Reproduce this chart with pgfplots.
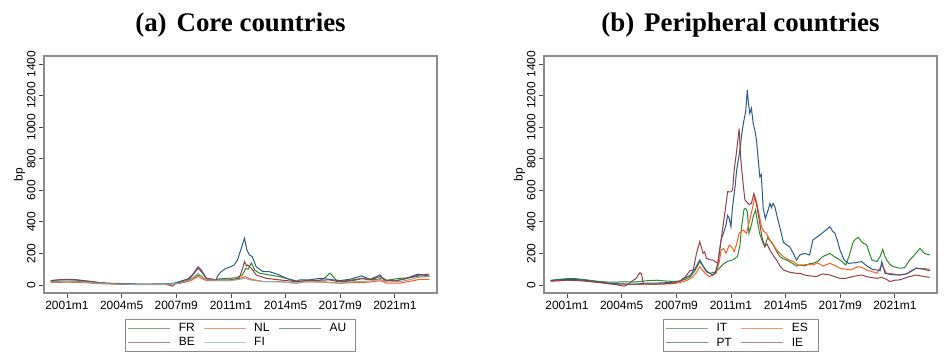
\documentclass[border=0pt]{standalone}
\usepackage{fontspec}
\setmainfont{Liberation Sans}
\newfontfamily\titlefont{Liberation Serif}
\usepackage{pgfplots}
\pgfplotsset{compat=1.18}
\definecolor{cgreen}{HTML}{2A8A2A}
\definecolor{corange}{HTML}{FF5A1F}
\definecolor{cblue}{HTML}{2B5A8A}
\definecolor{cmaroon}{HTML}{954047}
\definecolor{cgrey}{HTML}{8FA9A3}
\definecolor{frame}{HTML}{8C8C8C}
\pgfplotsset{
  base/.style={
    scale only axis, width=393bp, height=237bp,
    xmin=1999.6, xmax=2023.57, ymin=-51, ymax=1451,
    xtick={2001,2004.3333,2007.6667,2011,2014.3333,2017.6667,2021},
    xticklabels={2001m1,2004m5,2007m9,2011m1,2014m5,2017m9,2021m1},
    ytick={0,200,...,1400},
    yticklabel style={rotate=90, anchor=south},
    /pgf/number format/assume math mode=true,
    /pgf/number format/1000 sep={},
    tick label style={font=\fontsize{12}{14}\selectfont},
    tick align=outside, major tick length=5bp,
    xtick pos=bottom, ytick pos=left,
    axis line style={frame, line width=1.2bp},
    every tick/.style={black!70, line width=0.8bp},
    ylabel={bp}, ylabel style={at={(axis description cs:-0.062,0.5)}, anchor=center, font=\fontsize{12}{14}\selectfont},
    title style={at={(0.5,1)}, anchor=base, yshift=19bp, font=\titlefont\bfseries\fontsize{27}{30}\selectfont},
    legend style={at={(0.5,-0.11)}, anchor=north, draw=frame, line width=0.8bp,
      font=\fontsize{12}{14}\selectfont, inner sep=2bp, row sep=0.5bp,
      nodes={text width=22bp, align=left, inner sep=2bp},
      /tikz/every odd column/.append style={column sep=6bp}},
    legend cell align=left,
    legend image code/.code={\draw[#1, line width=1.4bp, opacity=0.65] (0bp,0bp) -- (42bp,0bp);},
    every axis plot/.append style={line width=1bp},
  }
}
\begin{document}
\begin{tikzpicture}[x=1bp,y=1bp]
\useasboundingbox (0,0) rectangle (950,360);
% ---------------- (a) Core countries ----------------
\begin{axis}[base, at={(44bp,67bp)}, anchor=south west,
  title={(a)\hspace{0.12em} Core countries}, legend columns=3]
\addplot[cgreen] coordinates {(2000.0,20)(2000.5,22)(2001.0,25)(2001.5,24)(2002.0,20)(2002.5,16)(2003.0,12)(2003.5,10)(2004.0,8)(2004.5,6)(2005.0,5)(2005.5,4)(2006.0,4)(2006.5,5)(2007.0,6)(2007.5,10)(2007.9,18)(2008.3,25)(2008.7,45)(2009.0,63)(2009.2,55)(2009.5,32)(2010.1,36)(2010.5,40)(2010.9,42)(2011.3,45)(2011.7,63)(2011.9,105)(2012.05,100)(2012.25,140)(2012.45,95)(2012.75,74)(2013.0,70)(2013.35,63)(2013.97,53)(2014.58,36)(2015.2,21)(2015.6,28)(2016.0,30)(2016.4,28)(2016.8,50)(2017.0,74)(2017.1,70)(2017.4,32)(2017.8,25)(2018.3,30)(2019.0,42)(2019.5,35)(2020.0,35)(2020.2,48)(2020.5,30)(2021.3,42)(2021.8,45)(2022.5,57)(2022.8,55)(2023.1,53)};
\addlegendentry{FR}
\addplot[corange] coordinates {(2000.0,15)(2001.0,18)(2002.0,15)(2003.0,8)(2004.0,5)(2005.0,3)(2006.0,2)(2007.0,3)(2007.9,10)(2008.5,25)(2009.0,53)(2009.5,27)(2010.9,27)(2011.5,40)(2011.83,53)(2012.25,36)(2013.0,21)(2014.0,21)(2015.0,11)(2015.5,20)(2016.5,18)(2017.6,11)(2018.5,15)(2019.5,18)(2020.1,27)(2020.5,12)(2021.3,11)(2022.0,25)(2022.5,35)(2023.1,36)};
\addlegendentry{NL}
\addplot[cblue] coordinates {(2000.0,27)(2000.5,32)(2001.0,36)(2001.5,34)(2002.0,28)(2002.5,22)(2003.0,15)(2003.5,11)(2004.0,10)(2004.5,8)(2005.0,6)(2005.5,5)(2006.0,5)(2006.5,6)(2007.0,6)(2007.5,10)(2007.85,21)(2008.5,42)(2009.0,105)(2009.2,84)(2009.5,42)(2010.1,32)(2010.2,60)(2010.4,84)(2010.7,105)(2011.0,116)(2011.2,127)(2011.4,158)(2011.6,222)(2011.83,296)(2011.97,222)(2012.13,190)(2012.3,180)(2012.54,116)(2012.95,84)(2013.35,84)(2013.66,74)(2013.97,63)(2014.38,42)(2014.99,21)(2015.2,32)(2015.8,32)(2016.4,42)(2017.0,36)(2017.6,27)(2018.25,36)(2018.96,57)(2019.5,36)(2020.1,63)(2020.4,27)(2021.1,27)(2021.7,42)(2022.4,69)(2023.1,57)};
\addlegendentry{AU}
\addplot[cmaroon] coordinates {(2000.0,28)(2000.5,32)(2001.0,34)(2001.5,32)(2002.0,26)(2002.5,20)(2003.0,14)(2003.5,10)(2004.0,8)(2004.5,6)(2005.0,5)(2005.5,4)(2006.0,4)(2006.5,5)(2007.0,4)(2007.3,-3)(2007.44,-8)(2007.55,5)(2007.9,15)(2008.3,28)(2008.7,70)(2009.0,116)(2009.2,95)(2009.5,42)(2010.1,32)(2010.9,32)(2011.5,42)(2011.7,100)(2011.83,148)(2011.95,120)(2012.03,127)(2012.25,105)(2012.54,63)(2013.15,42)(2013.97,32)(2015.0,21)(2015.6,28)(2016.4,30)(2017.0,32)(2017.6,20)(2018.3,25)(2019.0,40)(2019.5,32)(2020.1,53)(2020.4,30)(2021.1,28)(2021.7,40)(2022.5,63)(2023.1,69)};
\addlegendentry{BE}
\addplot[cgrey] coordinates {(2000.0,18)(2001.0,22)(2002.0,18)(2003.0,10)(2004.0,6)(2005.0,4)(2006.0,3)(2007.0,4)(2007.9,12)(2008.5,30)(2009.0,74)(2009.5,32)(2010.9,27)(2011.5,35)(2011.83,42)(2012.3,30)(2013.0,21)(2014.0,20)(2015.0,11)(2015.5,20)(2016.5,22)(2017.6,11)(2018.5,20)(2019.5,25)(2020.1,35)(2020.5,20)(2021.3,21)(2022.0,35)(2022.5,50)(2023.1,53)};
\addlegendentry{FI}
\end{axis}
% ---------------- (b) Peripheral countries ----------------
\begin{axis}[base, at={(544bp,67bp)}, anchor=south west,
  title={(b)\hspace{0.12em} Peripheral countries}, legend columns=2]
\addplot[cgreen] coordinates {(2000.0,30)(2000.5,35)(2001.0,40)(2001.5,40)(2002.0,35)(2002.5,28)(2003.0,22)(2003.5,18)(2004.0,18)(2004.5,20)(2005.0,18)(2005.5,22)(2006.0,28)(2006.5,30)(2007.0,25)(2007.5,22)(2007.9,25)(2008.2,35)(2008.5,50)(2008.8,90)(2009.1,148)(2009.3,120)(2009.5,90)(2009.7,74)(2010.0,80)(2010.3,106)(2010.5,130)(2010.8,150)(2011.1,158)(2011.4,180)(2011.55,250)(2011.65,369)(2011.8,480)(2011.9,486)(2012.0,465)(2012.1,327)(2012.25,380)(2012.36,433)(2012.5,475)(2012.62,400)(2012.75,327)(2012.9,280)(2013.06,243)(2013.26,306)(2013.4,280)(2013.57,255)(2013.8,210)(2013.98,180)(2014.2,165)(2014.4,158)(2014.7,140)(2015.0,120)(2015.2,127)(2015.5,120)(2015.8,135)(2016.0,137)(2016.3,150)(2016.6,180)(2017.04,200)(2017.3,180)(2017.65,158)(2018.0,127)(2018.2,180)(2018.46,274)(2018.6,290)(2018.77,302)(2019.0,270)(2019.28,253)(2019.45,200)(2019.6,158)(2019.9,148)(2020.1,180)(2020.26,226)(2020.4,180)(2020.5,158)(2020.7,130)(2020.9,116)(2021.3,106)(2021.6,110)(2021.9,158)(2022.2,190)(2022.53,232)(2022.8,200)(2023.14,190)};
\addlegendentry{IT}
\addplot[corange] coordinates {(2000.0,25)(2000.5,28)(2001.0,32)(2001.5,30)(2002.0,28)(2002.5,22)(2003.0,15)(2003.5,10)(2004.0,6)(2004.5,5)(2005.0,4)(2005.5,4)(2006.0,5)(2006.5,5)(2007.0,6)(2007.5,8)(2007.9,15)(2008.3,28)(2008.6,45)(2008.9,80)(2009.1,116)(2009.3,90)(2009.5,65)(2009.7,53)(2010.1,74)(2010.3,150)(2010.4,222)(2010.55,230)(2010.7,201)(2010.9,253)(2011.05,240)(2011.2,211)(2011.35,260)(2011.5,327)(2011.75,348)(2011.95,327)(2012.15,412)(2012.3,480)(2012.46,559)(2012.56,530)(2012.66,475)(2012.87,369)(2013.0,340)(2013.17,327)(2013.3,290)(2013.47,274)(2013.78,222)(2014.19,180)(2014.5,160)(2014.8,148)(2015.1,125)(2015.4,127)(2015.7,130)(2016.0,127)(2016.3,140)(2016.6,120)(2017.04,137)(2017.3,125)(2017.65,106)(2018.0,100)(2018.26,95)(2018.5,105)(2018.77,116)(2019.0,110)(2019.28,95)(2019.6,85)(2019.9,74)(2020.2,127)(2020.35,100)(2020.5,74)(2020.9,70)(2021.3,63)(2021.7,70)(2022.0,85)(2022.3,106)(2022.7,105)(2023.14,100)};
\addlegendentry{ES}
\addplot[cblue] coordinates {(2000.0,27)(2000.5,32)(2001.0,36)(2001.5,35)(2002.0,30)(2002.5,24)(2003.0,18)(2003.5,12)(2004.0,8)(2004.5,6)(2005.0,5)(2005.5,8)(2006.0,12)(2006.5,12)(2007.0,14)(2007.5,18)(2007.9,25)(2008.2,45)(2008.5,60)(2008.8,100)(2009.1,158)(2009.3,120)(2009.5,84)(2009.9,63)(2010.05,80)(2010.2,137)(2010.4,285)(2010.55,330)(2010.7,380)(2010.8,440)(2010.9,422)(2011.0,369)(2011.1,496)(2011.25,620)(2011.35,728)(2011.55,855)(2011.65,950)(2011.76,1024)(2011.9,1100)(2012.0,1235)(2012.07,1150)(2012.15,1087)(2012.25,1120)(2012.36,1024)(2012.46,980)(2012.56,918)(2012.66,800)(2012.76,686)(2012.85,700)(2012.97,486)(2013.1,420)(2013.27,475)(2013.38,517)(2013.47,490)(2013.57,517)(2013.68,496)(2013.85,420)(2013.98,369)(2014.2,270)(2014.4,255)(2014.6,240)(2014.8,201)(2015.0,158)(2015.2,190)(2015.5,200)(2015.8,190)(2016.0,285)(2016.2,300)(2016.43,317)(2016.7,340)(2017.04,369)(2017.2,340)(2017.34,329)(2017.5,280)(2017.65,222)(2017.9,160)(2018.16,137)(2018.5,140)(2018.97,148)(2019.3,120)(2019.6,100)(2019.89,95)(2020.1,90)(2020.2,148)(2020.3,110)(2020.4,74)(2020.8,65)(2021.3,63)(2021.7,70)(2022.0,90)(2022.3,106)(2022.7,100)(2023.14,90)};
\addlegendentry{PT}
\addplot[cmaroon] coordinates {(2000.0,24)(2000.5,26)(2001.0,30)(2001.5,28)(2002.0,25)(2002.5,20)(2003.0,15)(2003.5,8)(2004.0,2)(2004.5,-8)(2004.8,10)(2005.0,27)(2005.2,40)(2005.3,55)(2005.45,78)(2005.55,70)(2005.65,10)(2006.0,5)(2006.5,6)(2007.0,8)(2007.5,12)(2007.9,25)(2008.2,50)(2008.5,90)(2008.7,95)(2008.9,200)(2009.1,274)(2009.3,201)(2009.4,210)(2009.5,169)(2009.7,160)(2009.9,158)(2010.2,137)(2010.4,285)(2010.6,433)(2010.8,591)(2011.0,590)(2011.1,601)(2011.2,728)(2011.35,850)(2011.5,992)(2011.6,800)(2011.74,646)(2011.85,540)(2011.95,528)(2012.1,510)(2012.25,517)(2012.4,580)(2012.55,517)(2012.76,390)(2012.9,300)(2013.07,243)(2013.2,260)(2013.37,222)(2013.6,185)(2013.78,158)(2014.0,120)(2014.2,95)(2014.6,80)(2015.0,74)(2015.2,74)(2015.6,60)(2016.2,53)(2016.6,70)(2017.04,63)(2017.4,50)(2017.65,42)(2018.0,42)(2018.5,55)(2018.97,63)(2019.4,50)(2019.9,42)(2020.2,48)(2020.5,35)(2020.7,21)(2021.0,30)(2021.3,32)(2021.8,50)(2022.3,63)(2022.7,55)(2023.14,48)};
\addlegendentry{IE}
\end{axis}
\end{tikzpicture}
\end{document}
